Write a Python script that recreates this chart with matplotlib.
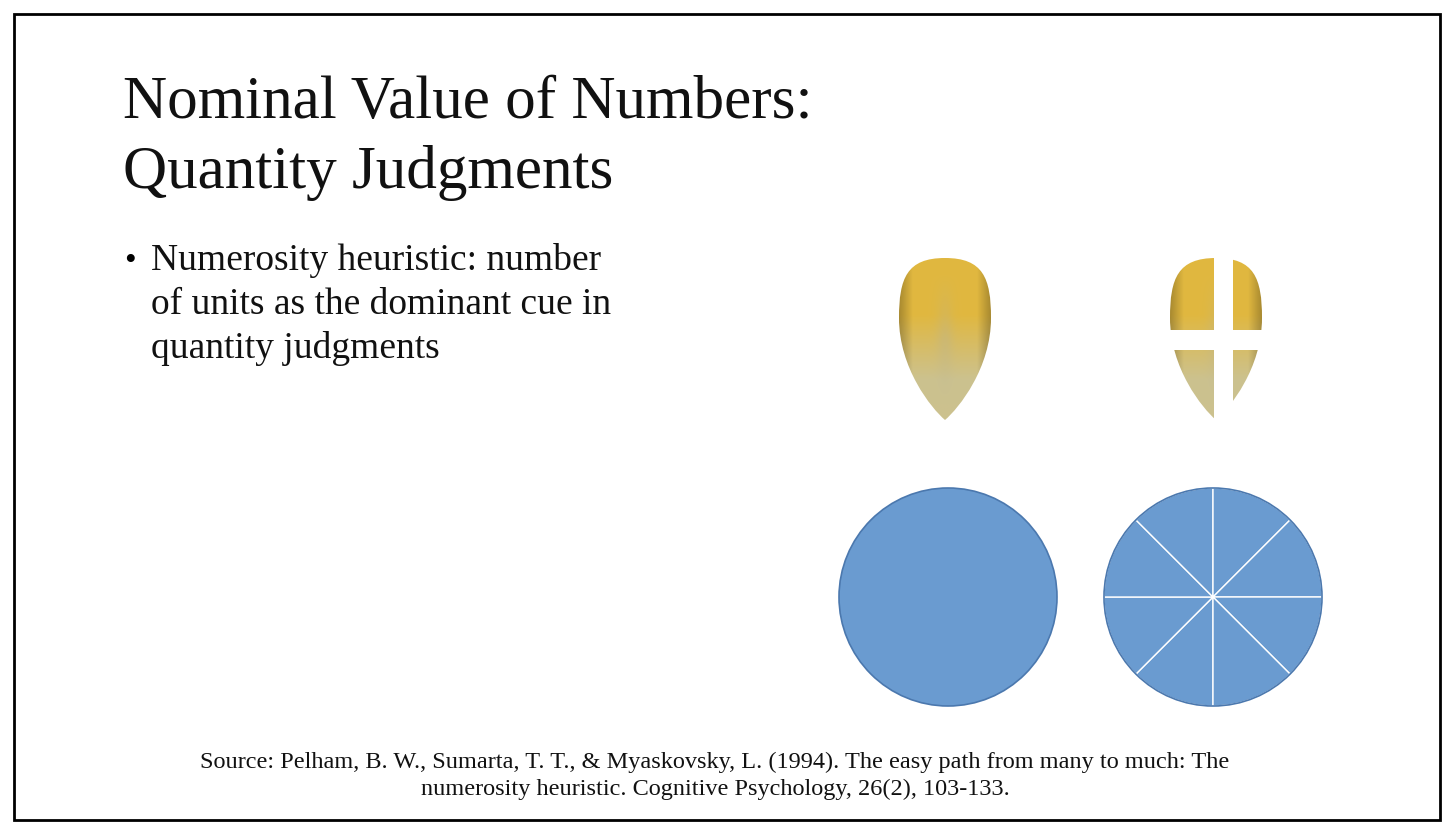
import matplotlib
matplotlib.use("Agg")
import matplotlib.pyplot as plt
import numpy as np
from matplotlib.patches import Rectangle, Circle, PathPatch, Wedge
from matplotlib.path import Path

title_lines = ["Nominal Value of Numbers:", "Quantity Judgments"]
bullet_lines = ["Numerosity heuristic: number", "of units as the dominant cue in", "quantity judgments"]
source_lines = ["Source: Pelham, B. W., Sumarta, T. T., & Myaskovsky, L. (1994). The easy path from many to much: The",
                "numerosity heuristic. Cognitive Psychology, 26(2), 103-133."]
whole_pie = [1]
cut_pie = [1, 1, 1, 1, 1, 1, 1, 1]

fig = plt.figure(figsize=(14.52, 8.30), dpi=100)
ax = fig.add_axes([0, 0, 1, 1])
ax.set_xlim(0, 1452); ax.set_ylim(830, 0); ax.axis("off")
ax.add_patch(Rectangle((14, 14), 1426, 806, fill=False, ec="black", lw=2))

serif = ["Liberation Serif", "DejaVu Serif"]
for i, t in enumerate(title_lines):
    ax.text(123, 118 + i * 70, t, fontsize=44, family=serif, va="baseline", color="#111")
ax.text(124, 270, "•", fontsize=24, family=serif, va="baseline")
for i, t in enumerate(bullet_lines):
    ax.text(151, 270 + i * 44, t, fontsize=27, family=serif, va="baseline", color="#111")
for i, t in enumerate(source_lines):
    ax.text(715, 768 + i * 27, t, fontsize=17.5, family=serif, va="baseline", ha="center", color="#111")

def kernel(cx, top, w=92, h=162):
    x0, x1 = cx - w / 2, cx + w / 2
    verts = [(cx, top), (x1 - 8, top), (x1, top + 20), (x1, top + 60),
             (x1, top + 110), (cx + 14, top + h - 12), (cx, top + h),
             (cx - 14, top + h - 12), (x0, top + 110), (x0, top + 60),
             (x0, top + 20), (x0 + 8, top), (cx, top)]
    codes = [Path.MOVETO] + [Path.CURVE4] * 12
    patch = PathPatch(Path(verts, codes), fc="none", ec="none")
    ax.add_patch(patch)
    yy, xx = np.mgrid[0:1:200j, -1:1:200j]
    gold = np.array([0.88, 0.72, 0.25]); pale = np.array([0.80, 0.76, 0.56])
    t = np.clip((yy - 0.35) / 0.4, 0, 1)[..., None]
    img = gold * (1 - t) + pale * t
    ridge = np.exp(-(xx / 0.18) ** 2) * np.clip(1 - np.abs(yy - 0.5) / 0.4, 0, 1)
    img = img * (1 - 0.35 * ridge[..., None]) + np.array([0.72, 0.70, 0.58]) * 0.35 * ridge[..., None]
    edge = np.clip(np.abs(xx) - 0.7, 0, 1)[..., None] / 0.3
    img = img * (1 - 0.25 * edge)
    im = ax.imshow(img, extent=(x0, x1, top + h, top), zorder=2)
    im.set_clip_path(patch)

kernel(945, 258)
kernel(1216, 258)
ax.add_patch(Rectangle((1214, 250), 19, 190, fc="white", ec="none", zorder=3))
ax.add_patch(Rectangle((1150, 330), 130, 20, fc="white", ec="none", zorder=3))
ax.set_xlim(0, 1452); ax.set_ylim(830, 0)

blue, edge = "#6A9BD0", "#4B78AE"
r = 109
for cx, data, wl in [(948, whole_pie, 0), (1213, cut_pie, 1.0)]:
    tot = sum(data); a = 90
    for v in data:
        d = 360 * v / tot
        ax.add_patch(Wedge((cx, 597), r, a, a + d, fc=blue, ec="white" if len(data) > 1 else "none", lw=wl))
        a += d
    ax.add_patch(Circle((cx, 597), r, fill=False, ec=edge, lw=1.2))

fig.savefig("out.png", dpi=100)
